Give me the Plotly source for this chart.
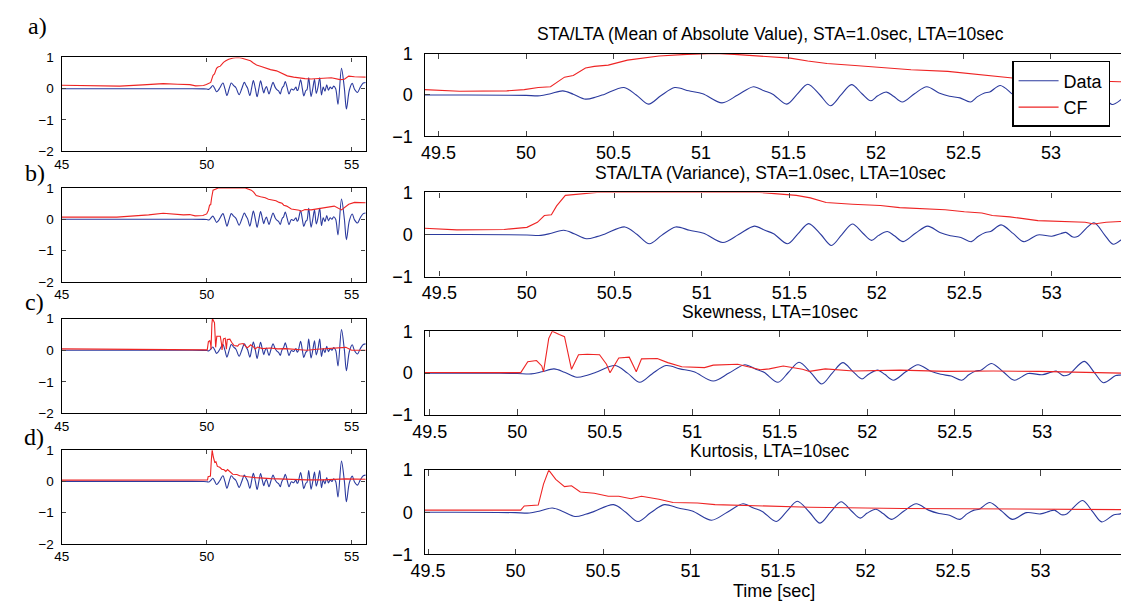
import plotly.graph_objects as go

W, H = 1121, 612

# ---------------- data ----------------
DATA_T = [45.0, 47.0, 49.0, 49.5, 49.9, 50.0, 50.08, 50.14, 50.21, 50.27, 50.34, 50.40, 50.45,
          50.56, 50.63, 50.70, 50.77, 50.85, 50.93, 51.01, 51.12, 51.21, 51.30, 51.36, 51.41,
          51.49, 51.55, 51.61, 51.68, 51.74, 51.80, 51.86, 51.92, 51.97, 52.01, 52.06, 52.10,
          52.15, 52.22, 52.29, 52.36, 52.42, 52.48, 52.54, 52.58, 52.62, 52.65, 52.71, 52.78,
          52.84, 52.92, 53.00, 53.05, 53.08, 53.12, 53.15, 53.24, 53.30, 53.35, 53.42, 53.46,
          53.52, 53.60, 53.66, 53.72, 53.78, 53.84, 53.90, 53.96, 54.02, 54.08, 54.14, 54.20,
          54.26, 54.32, 54.38, 54.45, 54.53, 54.65, 54.75, 54.82, 54.92, 55.02, 55.10, 55.20,
          55.30, 55.40, 55.50]
DATA_V = [0.0, 0.0, 0.0, 0.0, -0.005, -0.01, -0.02, 0.03, 0.10, 0.02, -0.10, -0.05, 0.02,
          0.18, 0.0, -0.22, -0.02, 0.18, 0.10, 0.03, -0.19, 0.0, 0.20, 0.10, 0.02,
          -0.22, 0.02, 0.26, 0.0, -0.26, 0.0, 0.25, 0.03, -0.14, -0.02, 0.07, -0.03,
          -0.17, 0.03, 0.20, 0.05, -0.03, -0.07, -0.17, -0.04, 0.05, 0.07, 0.23, 0.02,
          -0.17, -0.01, -0.04, 0.02, 0.05, -0.06, -0.04, 0.28, 0.0, -0.23, -0.06, -0.03,
          0.35, -0.25, 0.0, 0.30, -0.15, 0.05, 0.35, -0.20, 0.05, -0.08, 0.12, -0.05,
          0.05, 0.0, 0.08, 0.0, -0.50, 0.65, 0.0, -0.65, -0.05, 0.17, -0.02, -0.12,
          0.05, 0.18, 0.20]

CF_A_T = [45.0, 46.0, 47.0, 47.8, 48.5, 49.0, 49.42, 49.62, 49.89, 49.99, 50.07, 50.14, 50.22,
          50.27, 50.34, 50.39, 50.47, 50.58, 50.66, 50.76, 50.92, 51.08, 51.19, 51.35, 51.51,
          51.61, 51.72, 51.88, 52.04, 52.20, 52.41, 52.55, 52.68, 52.78, 53.0, 53.2, 53.39,
          53.6, 54.0, 54.3, 54.6, 54.75, 54.9, 55.1, 55.5]
CF_A_V = [0.11, 0.10, 0.08, 0.12, 0.16, 0.14, 0.13, 0.09, 0.10, 0.13, 0.18, 0.20, 0.43,
          0.47, 0.65, 0.69, 0.72, 0.84, 0.89, 0.94, 0.98, 1.00, 0.98, 0.94, 0.89,
          0.82, 0.76, 0.71, 0.66, 0.61, 0.57, 0.51, 0.45, 0.41, 0.37, 0.34, 0.32,
          0.31, 0.33, 0.35, 0.29, 0.30, 0.40, 0.38, 0.37]

CF_B_T = [45.0, 46.9, 48.0, 48.5, 49.2, 49.415, 49.6, 49.87, 50.0, 50.06, 50.10, 50.14, 50.17,
          50.22, 50.32, 50.40, 51.33, 51.46, 51.54, 51.62, 51.71, 51.86, 52.02, 52.13, 52.29,
          52.39, 52.50, 52.60, 52.66, 52.76, 52.92, 53.03, 53.19, 53.24, 53.31, 53.39, 53.6,
          53.9, 54.4, 54.65, 54.9, 55.1, 55.5]
CF_B_V = [0.07, 0.07, 0.14, 0.19, 0.14, 0.15, 0.11, 0.12, 0.17, 0.29, 0.45, 0.47, 0.68,
          0.93, 0.97, 1.00, 1.00, 0.95, 0.93, 0.87, 0.76, 0.72, 0.69, 0.64, 0.62,
          0.59, 0.54, 0.51, 0.45, 0.42, 0.33, 0.31, 0.29, 0.25, 0.29, 0.31, 0.30,
          0.35, 0.42, 0.30, 0.48, 0.54, 0.53]

CF_C_T = [45.0, 47.0, 48.5, 49.47, 50.00, 50.02, 50.06, 50.11, 50.14, 50.15, 50.18, 50.20,
          50.24, 50.27, 50.30, 50.31, 50.35, 50.40, 50.47, 50.51, 50.53, 50.58, 50.64, 50.66,
          50.68, 50.71, 50.80, 50.86, 50.94, 51.07, 51.12, 51.26, 51.34, 51.39, 51.44, 51.52,
          51.63, 51.67, 51.76, 51.92, 52.19, 52.45, 52.72, 52.98, 53.45, 53.8, 54.3, 54.8,
          55.0, 55.5]
CF_C_V = [0.04, 0.03, 0.03, 0.01, 0.01, 0.01, 0.27, 0.30, 0.17, 0.03, 0.83, 1.00,
          0.92, 0.87, 0.28, 0.09, 0.44, 0.45, 0.44, 0.21, 0.01, 0.36, 0.38, 0.20,
          0.03, 0.34, 0.35, 0.25, 0.15, 0.13, 0.19, 0.21, 0.13, 0.08, 0.10, 0.17,
          0.09, 0.04, 0.10, 0.05, 0.07, 0.04, 0.05, 0.04, 0.00, 0.03, 0.05, 0.09,
          0.00, 0.00]

CF_D_T = [45.0, 49.48, 50.00, 50.03, 50.05, 50.08, 50.13, 50.16, 50.19, 50.23, 50.25, 50.28,
          50.32, 50.37, 50.45, 50.53, 50.59, 50.66, 50.72, 50.82, 50.90, 51.04, 51.14, 51.41,
          51.68, 52.21, 52.74, 53.46, 54.0, 54.8, 55.5]
CF_D_V = [0.04, 0.04, 0.04, 0.05, 0.15, 0.16, 0.17, 0.67, 1.00, 0.78, 0.71, 0.61,
          0.63, 0.48, 0.45, 0.38, 0.38, 0.32, 0.38, 0.31, 0.23, 0.22, 0.18, 0.15,
          0.12, 0.09, 0.07, 0.05, 0.05, 0.08, 0.07]

CF_T = [CF_A_T, CF_B_T, CF_C_T, CF_D_T]
CF_V = [CF_A_V, CF_B_V, CF_C_V, CF_D_V]

PANEL_LABELS = ["a)", "b)", "c)", "d)"]
TITLES = ["STA/LTA (Mean of Absolute Value), STA=1.0sec, LTA=10sec",
          "STA/LTA (Variance), STA=1.0sec, LTA=10sec",
          "Skewness, LTA=10sec",
          "Kurtosis, LTA=10sec"]
LEFT_XTICKS = [45, 50, 55]
LEFT_YTICKS = [-2, -1, 0, 1]
RIGHT_XTICKS = [49.5, 50, 50.5, 51, 51.5, 52, 52.5, 53]
RIGHT_YTICKS = [-1, 0, 1]

# ---------------- layout geometry ----------------
BLUE = "#2b3a9e"
RED = "#ee2424"
FONT = "Liberation Sans, Arial, Helvetica, sans-serif"

LEFT_ROWS = [(49, 146), (184, 281), (319, 417), (455, 552)]
RIGHT_ROWS = [(45, 130.7), (188.6, 275.6), (332.1, 418.6), (475.7, 562.7)]
LEFT_X = (48.3, 356)
RIGHT_X = (415.7, 1121)
LEFT_RANGE = [45, 55.48]
RIGHT_RANGES = [[49.42, 53.40], [49.415, 53.395], [49.47, 53.45], [49.48, 53.46]]
LABEL_POS = [(12, 17), (9, 168), (9, 302), (8, 441)]
TITLE_Y = [25, 168, 312, 456]


def fx(p):
    return p / W


def fy(p):
    return 1 - p / H


fig = go.Figure()
layout = dict(width=W, height=H, margin=dict(l=0, r=0, t=0, b=0),
              paper_bgcolor="white", plot_bgcolor="white",
              font=dict(family=FONT, color="black"))

for i in range(4):
    li = i + 1
    ri = i + 5
    # left
    fig.add_trace(go.Scatter(x=DATA_T, y=DATA_V, mode="lines", name="Data",
                             line=dict(color=BLUE, width=1.1, shape="spline", smoothing=0.9),
                             xaxis=f"x{li}", yaxis=f"y{li}", showlegend=False))
    fig.add_trace(go.Scatter(x=CF_T[i], y=CF_V[i], mode="lines", name="CF",
                             line=dict(color=RED, width=1.1),
                             xaxis=f"x{li}", yaxis=f"y{li}", showlegend=False))
    # right
    fig.add_trace(go.Scatter(x=DATA_T, y=DATA_V, mode="lines", name="Data",
                             line=dict(color=BLUE, width=1.1, shape="spline", smoothing=0.9),
                             xaxis=f"x{ri}", yaxis=f"y{ri}", showlegend=(i == 0)))
    fig.add_trace(go.Scatter(x=CF_T[i], y=CF_V[i], mode="lines", name="CF",
                             line=dict(color=RED, width=1.1),
                             xaxis=f"x{ri}", yaxis=f"y{ri}", showlegend=(i == 0)))

    top, bot = LEFT_ROWS[i]
    layout[f"xaxis{li}"] = dict(domain=[fx(LEFT_X[0]), fx(LEFT_X[1])], range=LEFT_RANGE,
                                anchor=f"y{li}", tickvals=LEFT_XTICKS, ticks="inside", ticklen=4,
                                showline=True, linecolor="black", linewidth=1.3, mirror="ticks",
                                showgrid=False, zeroline=False, tickfont=dict(size=13.5),
                                ticklabelstandoff=0)
    layout[f"yaxis{li}"] = dict(domain=[fy(bot), fy(top)], range=[-2, 1],
                                anchor=f"x{li}", tickvals=LEFT_YTICKS, ticks="inside", ticklen=4,
                                showline=True, linecolor="black", linewidth=1.3, mirror="ticks",
                                showgrid=False, zeroline=False, tickfont=dict(size=13.5),
                                ticklabelstandoff=4)
    top, bot = RIGHT_ROWS[i]
    layout[f"xaxis{ri}"] = dict(domain=[fx(RIGHT_X[0]), fx(RIGHT_X[1])], range=RIGHT_RANGES[i],
                                anchor=f"y{ri}", tickvals=RIGHT_XTICKS, ticks="inside", ticklen=5.5,
                                showline=True, linecolor="black", linewidth=1.3, mirror="ticks",
                                showgrid=False, zeroline=False, tickfont=dict(size=18),
                                ticklabelstandoff=0)
    layout[f"yaxis{ri}"] = dict(domain=[fy(bot), fy(top)], range=[-1, 1],
                                anchor=f"x{ri}", tickvals=RIGHT_YTICKS, ticks="inside", ticklen=5.5,
                                showline=True, linecolor="black", linewidth=1.3, mirror=False,
                                showgrid=False, zeroline=False, tickfont=dict(size=18),
                                ticklabelstandoff=7)

annotations = []
for i in range(4):
    lx, ly = LABEL_POS[i]
    annotations.append(dict(text=PANEL_LABELS[i], x=fx(lx), y=fy(ly), xref="paper", yref="paper",
                            xanchor="left", yanchor="middle", showarrow=False,
                            font=dict(family="Liberation Serif, Times New Roman, serif", size=24)))
    annotations.append(dict(text=TITLES[i], x=fx(766), y=fy(TITLE_Y[i]), xref="paper", yref="paper",
                            xanchor="center", yanchor="middle", showarrow=False,
                            font=dict(family=FONT, size=17.5)))
annotations.append(dict(text="Time [sec]", x=fx(770), y=fy(601), xref="paper", yref="paper",
                        xanchor="center", yanchor="middle", showarrow=False,
                        font=dict(family=FONT, size=18)))
layout["annotations"] = annotations
layout["legend"] = dict(x=fx(1010.7), y=fy(52.7), xanchor="left", yanchor="top",
                        bgcolor="white", bordercolor="black", borderwidth=1.5,
                        font=dict(family=FONT, size=18), itemwidth=40, tracegroupgap=0)
fig.update_layout(**layout)
fig.write_html("out.html", config={"displayModeBar": False},
               post_script="document.body.style.margin='0px';document.body.style.overflow='hidden';")
